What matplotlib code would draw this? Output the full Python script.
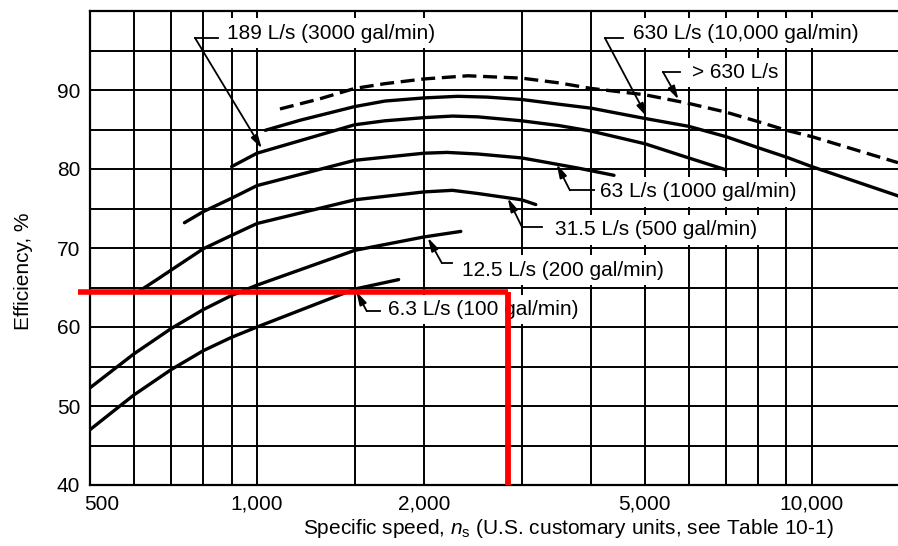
import matplotlib
matplotlib.use('Agg')
import matplotlib.pyplot as plt
from matplotlib.transforms import ScaledTranslation

plt.rcParams['font.family'] = ['Liberation Sans', 'DejaVu Sans']
plt.rcParams['mathtext.fontset'] = 'custom'
plt.rcParams['mathtext.rm'] = 'Liberation Sans'
plt.rcParams['mathtext.it'] = 'Liberation Sans:italic'

# ---------------- data ----------------
ns_6_3 = [500, 566, 600, 700, 800, 900, 1000, 1500, 1800]
eff_6_3 = [47.0, 50.0, 51.4, 54.6, 57.0, 58.7, 60.0, 64.8, 66.0]

ns_12_5 = [500, 600, 700, 800, 900, 1000, 1500, 2000, 2330]
eff_12_5 = [52.3, 56.6, 59.8, 62.2, 64.0, 65.3, 69.7, 71.4, 72.1]

ns_31_5 = [615, 660, 700, 800, 900, 1000, 1500, 2000, 2250, 2500, 3000, 3180]
eff_31_5 = [64.6, 66.0, 67.2, 69.9, 71.6, 73.1, 76.1, 77.1, 77.3, 76.9, 76.1, 75.5]

ns_63 = [740, 800, 900, 1000, 1500, 2000, 2200, 2500, 3000, 3230, 3800, 4400]
eff_63 = [73.2, 74.6, 76.3, 77.9, 81.1, 82.0, 82.1, 81.9, 81.4, 81.0, 80.1, 79.2]

ns_189 = [900, 1000, 1500, 1700, 2000, 2250, 2500, 3000, 3500, 4000, 5000, 6000, 7000]
eff_189 = [80.3, 82.0, 85.6, 86.1, 86.5, 86.7, 86.6, 86.1, 85.5, 84.8, 83.2, 81.4, 79.9]

ns_630 = [1035, 1200, 1500, 1700, 2000, 2300, 2600, 3000, 3500, 4000, 5000, 6000,
          7000, 8000, 9000, 10000, 14300]
eff_630 = [84.9, 86.2, 87.9, 88.6, 89.0, 89.2, 89.1, 88.8, 88.2, 87.7, 86.4, 85.4,
           84.1, 82.7, 81.5, 80.3, 76.6]

ns_gt630 = [1100, 1300, 1500, 1700, 2000, 2400, 3000, 3500, 4000, 5000, 6000, 7000,
            8000, 9000, 10000, 14300]
eff_gt630 = [87.6, 88.9, 90.2, 90.8, 91.4, 91.8, 91.5, 90.9, 90.2, 89.4, 88.3, 87.2,
             86.0, 84.9, 84.1, 80.8]

curve_labels = ['6.3 L/s (100 gal/min)', '12.5 L/s (200 gal/min)',
                '31.5 L/s (500 gal/min)', '63 L/s (1000 gal/min)',
                '189 L/s (3000 gal/min)', '630 L/s (10,000 gal/min)', '> 630 L/s']

x_major_ticks = [500, 1000, 2000, 5000, 10000]
x_major_labels = ['500', '1,000', '2,000', '5,000', '10,000']
x_minor_ticks = [600, 700, 800, 900, 1500, 3000, 4000, 6000, 7000, 8000, 9000]
y_major_ticks = [40, 50, 60, 70, 80, 90]
y_minor_ticks = [45, 55, 65, 75, 85, 95]

# selection marker (red lines)
sel_ns = 2830
sel_eff = 64.4

# ---------------- figure ----------------
fig = plt.figure(figsize=(8.98, 5.46), dpi=100)
ax = fig.add_axes([90 / 898, 1 - 485 / 546, 808 / 898, 474 / 546])
ax.set_xscale('log')
ax.set_xlim(500, 14300)
ax.set_ylim(40, 100)

ax.set_xticks(x_major_ticks)
ax.set_xticklabels(x_major_labels)
ax.set_xticks(x_minor_ticks, minor=True)
ax.set_xticklabels([], minor=True)
ax.set_yticks(y_major_ticks)
ax.set_yticks(y_minor_ticks, minor=True)
ax.tick_params(which='both', length=0, labelsize=15, colors='black')
ax.tick_params(axis='x', pad=7)
ax.tick_params(axis='y', pad=7)
ax.grid(which='both', color='black', lw=1.4)
ax.set_axisbelow(True)

# first x label sits slightly right of the axis line in the reference
first = ax.get_xticklabels()[0]
first.set_transform(first.get_transform() + ScaledTranslation(12 / 100, 0, fig.dpi_scale_trans))

for s in ['left', 'bottom', 'top']:
    ax.spines[s].set_linewidth(1.6)
ax.spines['right'].set_visible(False)

lw = 2.4
curves = [(ns_6_3, eff_6_3), (ns_12_5, eff_12_5), (ns_31_5, eff_31_5),
          (ns_63, eff_63), (ns_189, eff_189), (ns_630, eff_630)]
for xs, ys in curves:
    ax.plot(xs, ys, color='black', lw=lw, solid_capstyle='round',
            solid_joinstyle='round', zorder=3)
ax.plot(ns_gt630, eff_gt630, color='black', lw=lw, ls=(0, (4.2, 2.0)), zorder=3)

# leader labels: (text_xy, corner_xy, hend_x, tip_xy)
leaders = [
    ((1722, 62.2), (1577, 62.0), 1666, (1510, 64.5)),
    ((2340, 67.2), (2153, 68.1), 2245, (2032, 71.3)),
    ((3442, 72.3), (3001, 72.7), 3262, (2832, 76.3)),
    ((4148, 77.1), (3664, 77.3), 4096, (3469, 80.6)),
    ((882, 97.2), (773, 96.6), 850, (1020, 82.6)),
    ((4757, 97.2), (4236, 96.6), 4563, (5042, 86.6)),
    ((6077, 92.2), (5390, 92.3), 5781, (5750, 88.8)),
]
for label, (txy, cxy, hx, tip) in zip(curve_labels, leaders):
    ax.text(txy[0], txy[1], label, fontsize=15, ha='left', va='center', zorder=5,
            bbox=dict(boxstyle='square,pad=0.25', fc='white', ec='none'))
    ax.plot([cxy[0], hx], [cxy[1], cxy[1]], color='black', lw=1.3, zorder=4)
    ax.annotate('', xy=tip, xytext=cxy, zorder=4,
                arrowprops=dict(arrowstyle='-|>,head_length=0.4,head_width=0.11',
                                mutation_scale=20, color='black', lw=1.3,
                                shrinkA=0, shrinkB=0))

# red selection lines
ax.plot([476, sel_ns], [sel_eff, sel_eff], color='#ff0000', lw=4, clip_on=False,
        solid_capstyle='butt', zorder=6)
ax.plot([sel_ns, sel_ns], [40, sel_eff], color='#ff0000', lw=4.2, clip_on=False,
        solid_capstyle='butt', zorder=6)

ax.set_xlabel(r'Specific speed, $n_{\rm s}$ (U.S. customary units, see Table 10-1)',
              fontsize=15)
ax.xaxis.set_label_coords(0.592, -0.068)
ax.set_ylabel('Efficiency, %', fontsize=15)
ax.yaxis.set_label_coords(-0.07, 0.45)

fig.savefig('out.png', dpi=100)
